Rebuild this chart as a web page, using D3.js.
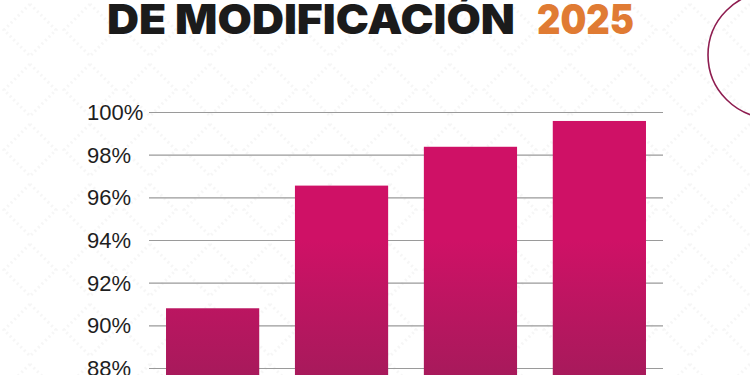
<!DOCTYPE html>
<html>
<head>
<meta charset="utf-8">
<script src="https://cdn.jsdelivr.net/npm/d3@7"></script>
<style>
  html, body { margin: 0; padding: 0; background: #ffffff; }
  svg { display: block; }
</style>
</head>
<body>
<div id="chart"></div>
<script>
// ---- data ----
const categories = ["Periodo 1", "Periodo 2", "Periodo 3", "Periodo 4"];
const values = [0.908, 0.9655, 0.9837, 0.9958];
const tickValues = [0.88, 0.90, 0.92, 0.94, 0.96, 0.98, 1.00];
const titleMain = "DE MODIFICACIÓN";
const titleYear = "2025";

const W = 750, H = 375;
const svg = d3.select("#chart").append("svg")
  .attr("width", W).attr("height", H);

const defs = svg.append("defs");

// faint background diamond pattern
const pat = defs.append("pattern")
  .attr("id", "bgpat").attr("patternUnits", "userSpaceOnUse")
  .attr("width", 60).attr("height", 60);
pat.append("path")
  .attr("d", "M30,4 L56,30 L30,56 L4,30 Z")
  .attr("fill", "none").attr("stroke", "#f6f6f6")
  .attr("stroke-width", 3).attr("stroke-dasharray", "2,3");
svg.append("rect").attr("width", W).attr("height", H).attr("fill", "#ffffff");
svg.append("rect").attr("width", W).attr("height", H).attr("fill", "url(#bgpat)");

// bar gradient
const grad = defs.append("linearGradient")
  .attr("id", "barGrad").attr("gradientUnits", "userSpaceOnUse")
  .attr("x1", 0).attr("x2", 0).attr("y1", 240).attr("y2", 380);
grad.append("stop").attr("offset", "0%").attr("stop-color", "#CF1166");
grad.append("stop").attr("offset", "100%").attr("stop-color", "#A61A5B");

// scales
const x = d3.scaleBand().domain(categories)
  .range([149, 663]).paddingInner(0.277).paddingOuter(0.132);
const y = d3.scaleLinear().domain([0.88, 1.00]).range([368, 112]);

// gridlines
const gridG = svg.append("g")
  .attr("transform", "translate(149,0)")
  .call(d3.axisLeft(y).tickValues(tickValues).tickSize(-(663 - 149)).tickFormat(""));
gridG.select(".domain").remove();
gridG.selectAll(".tick line").attr("stroke", "#9a9a9a").attr("stroke-width", 1.2);

// y labels (left aligned)
svg.append("g").selectAll("text")
  .data(tickValues).join("text")
  .attr("x", 87)
  .attr("y", d => y(d) + 8)
  .attr("font-family", "'Liberation Sans', Arial, sans-serif")
  .attr("font-size", 22)
  .attr("fill", "#1e1e1e")
  .text(d => d3.format(".0%")(d));

// bars
svg.append("g").selectAll("rect")
  .data(values).join("rect")
  .attr("x", (d, i) => x(categories[i]))
  .attr("width", x.bandwidth())
  .attr("y", d => y(d))
  .attr("height", d => y(0.86) - y(d))
  .attr("fill", "url(#barGrad)");

// title
svg.append("text")
  .attr("x", 107).attr("y", 34)
  .attr("font-family", "Inter, 'Lato', sans-serif")
  .attr("font-weight", 900)
  .attr("font-size", 41)
  .attr("fill", "#1b1b1b")
  .attr("textLength", 408).attr("lengthAdjust", "spacingAndGlyphs")
  .text(titleMain);
svg.append("text")
  .attr("x", 537).attr("y", 34)
  .attr("font-family", "Inter, 'Lato', sans-serif")
  .attr("font-weight", 900)
  .attr("font-size", 41)
  .attr("fill", "#E07B33")
  .attr("textLength", 97).attr("lengthAdjust", "spacingAndGlyphs")
  .text(titleYear);

// decorative circle top-right
svg.append("circle")
  .attr("cx", 771).attr("cy", 55).attr("r", 63)
  .attr("fill", "none").attr("stroke", "#8E1D50").attr("stroke-width", 1.6);
</script>
</body>
</html>
